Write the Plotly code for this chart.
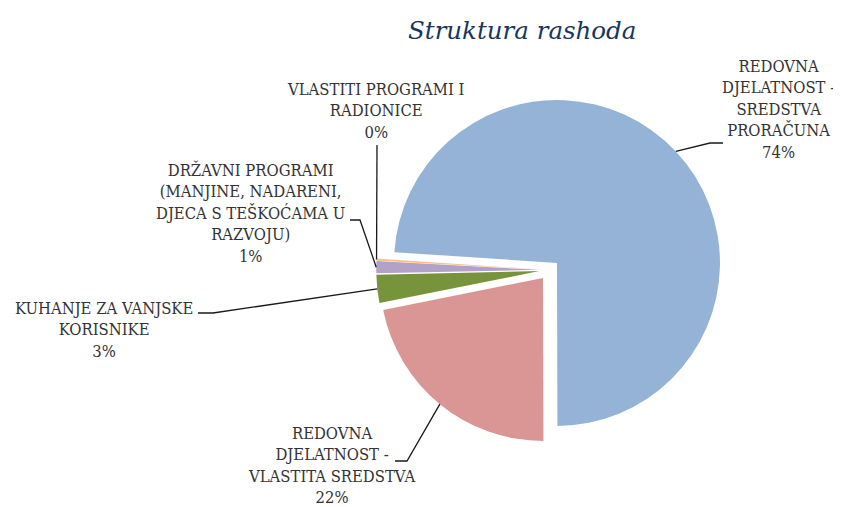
import math
import plotly.graph_objects as go

# ---- data ----
labels = [
    "REDOVNA<br>DJELATNOST -<br>SREDSTVA<br>PRORAČUNA",
    "REDOVNA<br>DJELATNOST -<br>VLASTITA SREDSTVA",
    "KUHANJE ZA VANJSKE<br>KORISNIKE",
    "DRŽAVNI PROGRAMI<br>(MANJINE, NADARENI,<br>DJECA S TEŠKOĆAMA U<br>RAZVOJU)",
    "VLASTITI PROGRAMI I<br>RADIONICE",
]
values = [73.9, 21.9, 2.8, 1.2, 0.2]
colors = ["#95B3D7", "#D99694", "#77933C", "#B3A2C7", "#FAC090"]
title_text = "Struktura rashoda"

# ---- layout parameters (page pixel coordinates) ----
OFF = 8                 # default page body margin
W, H = 841 - OFF, 507 - OFF
cx, cy = 549.5, 270.0   # pie centre
r = 163.0               # slice radius
pull = 0.063
rotation = 273.8
half = r * (1 + pull)


def P(x, y):
    return (x - OFF) / W, 1 - (y - OFF) / H


dom_x = [P(cx - half, 0)[0], P(cx + half, 0)[0]]
dom_y = [P(0, cy + half)[1], P(0, cy - half)[1]]

fig = go.Figure(go.Pie(
    labels=[l.replace("<br>", " ") for l in labels],
    values=values,
    sort=False,
    direction="clockwise",
    rotation=rotation,
    pull=[pull] * len(values),
    marker=dict(colors=colors, line=dict(width=0)),
    textinfo="none",
    hoverinfo="label+percent",
    showlegend=False,
    domain=dict(x=dom_x, y=dom_y),
))

# label text centres and elbow points
label_pos = [(778, 110), (331, 465), (104, 330), (250, 213), (376, 111)]
elbows = [
    [(723, 143), (710, 143)],
    [(395, 461), (407, 461)],
    [(198, 313), (213, 313)],
    [(350, 220), (360, 220)],
    [(377, 145)],
]

total = sum(values)
font_lbl = dict(family="DejaVu Serif Condensed, DejaVu Serif, serif", size=16.5, color="#333333")

annotations = []
shapes = []
cum = 0.0
for i, v in enumerate(values):
    mid = math.radians(rotation + (cum + v / 2) / total * 360)
    cum += v
    ax = cx + (1 + pull) * r * math.sin(mid)
    ay = cy - (1 + pull) * r * math.cos(mid)
    pct = f"{round(v / total * 100):.0f}%"
    lx, ly = label_pos[i]
    px, py = P(lx, ly)
    annotations.append(dict(
        x=px, y=py, xref="paper", yref="paper", showarrow=False,
        text=labels[i] + "<br>" + pct, align="center",
        xanchor="center", yanchor="middle", font=font_lbl,
    ))
    pts = elbows[i] + [(ax, ay)]
    path = "M " + " L ".join(f"{P(x, y)[0]:.5f},{P(x, y)[1]:.5f}" for x, y in pts)
    shapes.append(dict(type="path", xref="paper", yref="paper", path=path,
                       line=dict(color="#1a1a1a", width=1.3)))

tx, ty = P(522, 30)
annotations.append(dict(
    x=tx, y=ty, xref="paper", yref="paper", showarrow=False,
    text="<i>" + title_text + "</i>", xanchor="center", yanchor="middle",
    font=dict(family="DejaVu Serif, serif", size=24.5, color="#17365D"),
))

fig.update_layout(
    width=W, height=H,
    margin=dict(l=0, r=0, t=0, b=0),
    paper_bgcolor="white", plot_bgcolor="white",
    annotations=annotations, shapes=shapes,
)

fig.write_html("out.html")
